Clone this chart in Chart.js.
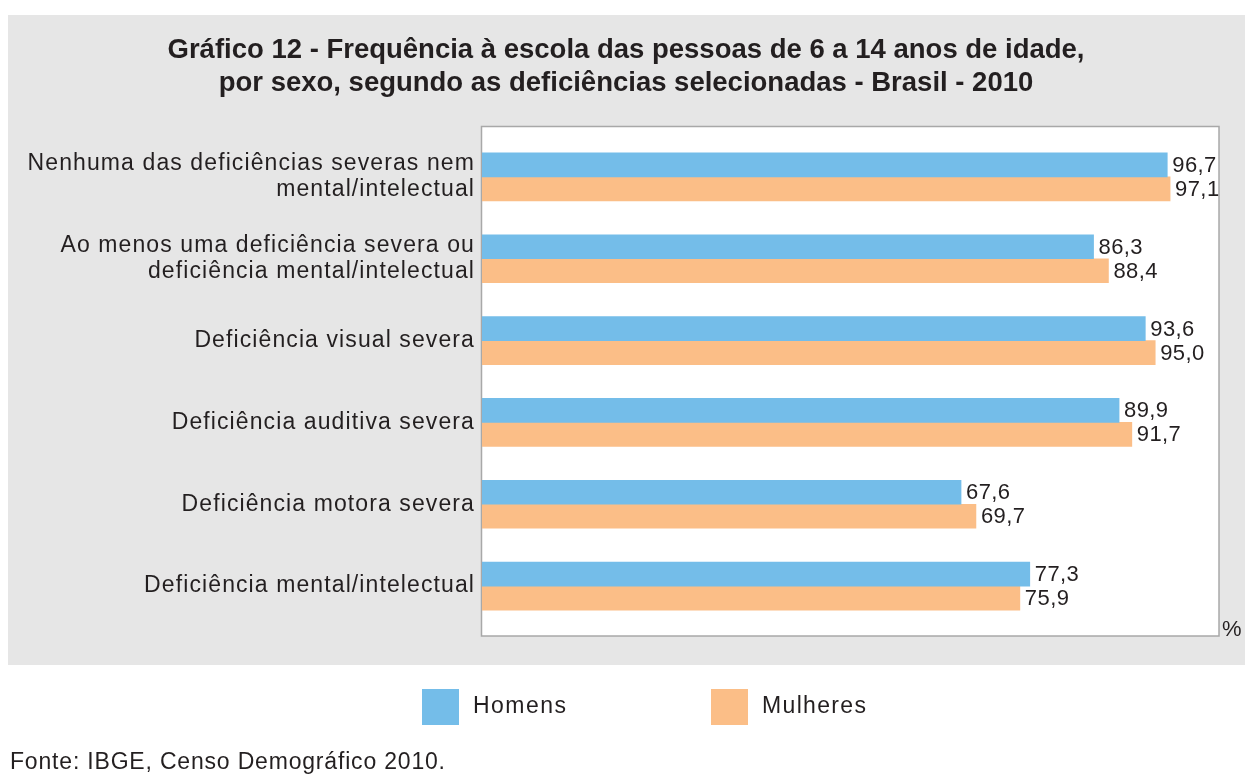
<!DOCTYPE html>
<html>
<head>
<meta charset="utf-8">
<script src="https://cdn.jsdelivr.net/npm/chart.js@4.4.1/dist/chart.umd.min.js"></script>
<style>
html,body{margin:0;padding:0;background:#ffffff;}
#wrap{width:1252px;height:779px;position:relative;}
canvas{display:block;}
</style>
</head>
<body>
<div id="wrap"><canvas id="c" width="1252" height="779"></canvas></div>
<script>
const titleLines = [
  "Gráfico 12 - Frequência à escola das pessoas de 6 a 14 anos de idade,",
  "por sexo, segundo as deficiências selecionadas - Brasil - 2010"
];
const categories = [
  ["Nenhuma das deficiências severas nem", "mental/intelectual"],
  ["Ao menos uma deficiência severa ou", "deficiência mental/intelectual"],
  "Deficiência visual severa",
  "Deficiência auditiva severa",
  "Deficiência motora severa",
  "Deficiência mental/intelectual"
];
const seriesNames = ["Homens", "Mulheres"];
const homens = [96.7, 86.3, 93.6, 89.9, 67.6, 77.3];
const mulheres = [97.1, 88.4, 95.0, 91.7, 69.7, 75.9];
const unitLabel = "%";
const sourceText = "Fonte: IBGE, Censo Demográfico 2010.";

const TEXT = '#231f20';
const BLUE = '#74bde9';
const ORANGE = '#fbbe87';
const FAMILY = '"Liberation Sans", Arial, Helvetica, sans-serif';

function fitSpacing(ctx, text, target) {
  ctx.letterSpacing = '0px';
  const w = ctx.measureText(text).width;
  const n = Math.max(1, text.length - 1);
  return Math.max(0, (target - w) / n);
}

const deco = {
  id: 'deco',
  beforeDraw(chart) {
    const ctx = chart.ctx, a = chart.chartArea;
    ctx.save();
    ctx.fillStyle = '#e6e6e6';
    ctx.fillRect(8, 15, 1237, 650);
    const top = a.top - 9.5, bottom = a.bottom + 9;
    ctx.fillStyle = '#ffffff';
    ctx.fillRect(a.left - 0.5, top, a.right - a.left + 0.5, bottom - top);
    ctx.strokeStyle = '#a8a8a8';
    ctx.lineWidth = 1.5;
    ctx.strokeRect(a.left - 0.5, top, a.right - a.left + 0.5, bottom - top);
    ctx.restore();
    ctx.letterSpacing = '1.1px';
  },
  afterDatasetsDraw(chart) {
    const ctx = chart.ctx;
    ctx.save();
    ctx.font = '22px ' + FAMILY;
    ctx.letterSpacing = '0.4px';
    ctx.fillStyle = TEXT;
    ctx.textAlign = 'left';
    ctx.textBaseline = 'middle';
    chart.data.datasets.forEach((ds, di) => {
      const meta = chart.getDatasetMeta(di);
      meta.data.forEach((el, i) => {
        const txt = ds.data[i].toFixed(1).replace('.', ',');
        ctx.fillText(txt, el.x + 5, el.y + 1);
      });
    });
    ctx.restore();
  },
  afterDraw(chart) {
    const ctx = chart.ctx, a = chart.chartArea;
    ctx.save();
    // title
    ctx.letterSpacing = '0px';
    ctx.font = 'bold 28px ' + FAMILY;
    ctx.fillStyle = TEXT;
    ctx.textAlign = 'center';
    ctx.textBaseline = 'alphabetic';
    const w1 = ctx.measureText(titleLines[0]).width;
    const s = 917 / w1;
    ctx.save();
    ctx.translate(626, 0);
    ctx.scale(s, 1);
    ctx.fillText(titleLines[0], 0, 58);
    ctx.fillText(titleLines[1], 0, 91);
    ctx.restore();

    // unit
    ctx.font = '22px ' + FAMILY;
    ctx.textAlign = 'left';
    ctx.letterSpacing = '0.5px';
    ctx.fillText(unitLabel, a.right + 3, a.bottom + 9);

    // legend
    const legend = [
      {name: chart.data.datasets[0].label, color: chart.data.datasets[0].backgroundColor, bx: 422, tx: 473, tw: 93},
      {name: chart.data.datasets[1].label, color: chart.data.datasets[1].backgroundColor, bx: 711, tx: 762, tw: 104}
    ];
    ctx.font = '23px ' + FAMILY;
    legend.forEach(l => {
      ctx.fillStyle = l.color;
      ctx.fillRect(l.bx, 689, 37, 36);
      ctx.fillStyle = TEXT;
      const sp = fitSpacing(ctx, l.name, l.tw);
      ctx.letterSpacing = sp + 'px';
      ctx.fillText(l.name, l.tx, 713);
    });

    // source
    ctx.font = '23px ' + FAMILY;
    const sp2 = fitSpacing(ctx, sourceText, 435);
    ctx.letterSpacing = sp2 + 'px';
    ctx.fillStyle = TEXT;
    ctx.fillText(sourceText, 10, 769);
    ctx.restore();
  }
};

new Chart(document.getElementById('c'), {
  type: 'bar',
  data: {
    labels: categories,
    datasets: [
      {label: seriesNames[0], data: homens, backgroundColor: BLUE, barThickness: 24, borderWidth: 0},
      {label: seriesNames[1], data: mulheres, backgroundColor: ORANGE, barThickness: 24, borderWidth: 0}
    ]
  },
  options: {
    indexAxis: 'y',
    responsive: false,
    animation: false,
    devicePixelRatio: 1,
    layout: {padding: {top: 136, bottom: 152, left: 0, right: 33}},
    plugins: {legend: {display: false}, title: {display: false}, tooltip: {enabled: false}},
    scales: {
      x: {display: false, min: 0, max: 104},
      y: {
        afterFit(scale) { scale.width = 482; },
        grid: {display: false, drawTicks: false},
        border: {display: false},
        ticks: {
          autoSkip: false,
          padding: 7,
          color: TEXT,
          font: {family: FAMILY, size: 23, lineHeight: 1.14}
        }
      }
    }
  },
  plugins: [deco]
});
</script>
</body>
</html>
